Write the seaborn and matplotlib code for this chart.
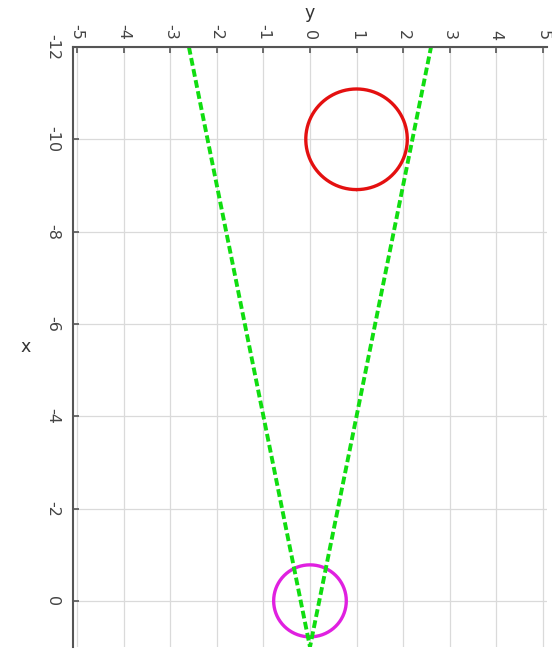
import numpy as np
import pandas as pd
import seaborn as sns
import matplotlib
matplotlib.use("Agg")
import matplotlib.pyplot as plt

# Cone boundary: apex and the two rays up to x = -12
cone_x = [-12.0, 1.0, -12.0]
cone_y = [-2.6, 0.0, 2.6]

# Circles (centre in x, centre in y, radius)
red_center = (-10.0, 1.0)
red_radius = 1.09
magenta_center = (0.0, 0.0)
magenta_radius = 0.78

x_ticks = [-12, -10, -8, -6, -4, -2, 0]
y_ticks = [-5, -4, -3, -2, -1, 0, 1, 2, 3, 4, 5]


def circle_frame(center, radius, n=361):
    t = np.linspace(0, 2 * np.pi, n)
    return pd.DataFrame({"x": center[0] + radius * np.cos(t),
                         "y": center[1] + radius * np.sin(t)})


sns.set_theme(style="white")
plt.rcParams["font.family"] = ["DejaVu Sans"]

fig = plt.figure(figsize=(5.52, 6.57), dpi=100)
ax = fig.add_axes([0.1322, 0.0152, 0.8587, 0.9133])

cone = pd.DataFrame({"x": cone_x, "y": cone_y})
red = circle_frame(red_center, red_radius)
mag = circle_frame(magenta_center, magenta_radius)

# horizontal axis shows y, vertical axis shows x (increasing downward)
sns.lineplot(data=red, x="y", y="x", sort=False, estimator=None,
             color="#e41010", linewidth=2.4, ax=ax)
sns.lineplot(data=mag, x="y", y="x", sort=False, estimator=None,
             color="#e020e0", linewidth=2.4, ax=ax)
sns.lineplot(data=cone, x="y", y="x", sort=False, estimator=None,
             color="#10dd10", linewidth=2.8, ax=ax)
ax.lines[-1].set_dashes([2.0, 0.9])

ax.set_xlim(-5.09, 5.09)
ax.set_ylim(1.0, -12.0)
ax.set_xticks(y_ticks)
ax.set_yticks(x_ticks)
ax.set_xticklabels([str(v) for v in y_ticks], rotation=-90)
ax.set_yticklabels([str(v) for v in x_ticks], rotation=-90, va="center")

ax.grid(True, color="#dadada", linewidth=0.9)
ax.set_axisbelow(True)

ax.xaxis.tick_top()
ax.xaxis.set_label_position("top")
ax.tick_params(axis="x", direction="in", length=4, width=1.2, colors="#555555",
               labelcolor="#444444", labelsize=11.5, pad=5, top=True, bottom=False)
ax.tick_params(axis="y", direction="in", length=4, width=1.2, colors="#555555",
               labelcolor="#444444", labelsize=11.5, pad=9, left=True, right=False)

for side in ("right", "bottom"):
    ax.spines[side].set_visible(False)
for side in ("left", "top"):
    ax.spines[side].set_color("#555555")
    ax.spines[side].set_linewidth(1.5)

ax.set_xlabel("y", fontsize=12.5, color="#333333", labelpad=4)
ax.set_ylabel("x", fontsize=12.5, color="#333333", rotation=0, labelpad=14,
              va="center")

fig.savefig("out.png", dpi=100)
